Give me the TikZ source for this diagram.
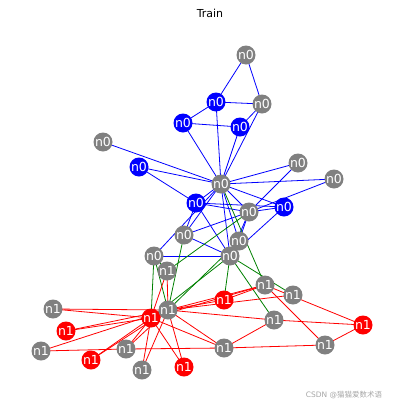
\documentclass[tikz,border=0pt]{standalone}
\usepackage{fontspec}
\setmainfont{DejaVu Sans}
\newfontfamily\cjkfont{Noto Sans CJK SC}
\usetikzlibrary{backgrounds}
\definecolor{ngray}{RGB}{128,128,128}
\definecolor{nblue}{RGB}{0,0,255}
\definecolor{nred}{RGB}{255,0,0}
\definecolor{ngreen}{RGB}{0,128,0}
\tikzset{
  vtx/.style={circle,minimum size=19pt,inner sep=0pt,text=white,font=\fontsize{12.5}{12.5}\selectfont},
  gv/.style={vtx,fill=ngray},
  bv/.style={vtx,fill=nblue},
  rv/.style={vtx,fill=nred},
  be/.style={draw=nblue,line width=0.8pt},
  re/.style={draw=nred,line width=0.8pt},
  ge/.style={draw=ngreen,line width=0.8pt},
}
\begin{document}
\begin{tikzpicture}[x=1pt,y=-1pt]
\useasboundingbox (0,0) rectangle (404,410);
\node[font=\fontsize{11}{11}\selectfont] (title) at (210,13) {Train};
% n0 group
\node[gv] (A) at (246,55) {n0};
\node[bv] (B) at (216,102) {n0};
\node[gv] (C) at (262,104) {n0};
\node[bv] (D) at (183,123) {n0};
\node[bv] (E) at (240,127) {n0};
\node[gv] (F) at (103,142) {n0};
\node[bv] (G) at (139,167) {n0};
\node[gv] (H) at (298,163) {n0};
\node[gv] (I) at (334,179) {n0};
\node[gv] (J) at (221,184) {n0};
\node[bv] (K) at (196,203) {n0};
\node[bv] (L) at (284,207) {n0};
\node[gv] (M) at (249,212) {n0};
\node[gv] (N) at (184,235) {n0};
\node[gv] (O) at (239,241) {n0};
\node[gv] (P) at (154,256) {n0};
\node[gv] (Q) at (230,256) {n0};
% n1 group
\node[gv] (R) at (167,271) {n1};
\node[gv] (S) at (265,285) {n1};
\node[gv] (T) at (293,295) {n1};
\node[rv] (U) at (224,300) {n1};
\node[gv] (V) at (53,309) {n1};
\node[rv] (X) at (151,318) {n1};
\node[gv] (W) at (168,310) {n1};
\node[rv] (Y) at (66,331) {n1};
\node[gv] (Z) at (274,320) {n1};
\node[rv] (AA) at (363,325) {n1};
\node[gv] (BB) at (41,351) {n1};
\node[gv] (CC) at (126,349) {n1};
\node[gv] (DD) at (224,348) {n1};
\node[gv] (EE) at (325,345) {n1};
\node[rv] (FF) at (91,360) {n1};
\node[gv] (GG) at (142,370) {n1};
\node[rv] (HH) at (184,367) {n1};
\node[text=ngray!70,font=\fontsize{7.5}{7.5}\selectfont] (wm) at (344,395) {CSDN @{\cjkfont 猫猫爱数术语}};
\begin{scope}[on background layer]
% blue edges
\foreach \a/\b in {J/M,J/Q,J/K,J/E,J/B,J/C,J/L,J/P,J/D,J/F,J/G,J/N,J/H,J/O,J/I,
  M/Q,M/K,M/L,M/N,M/H,M/O,M/I,Q/K,Q/L,Q/P,Q/N,K/L,K/G,K/N,E/C,E/D,B/C,B/D,B/A,C/A}
  \draw[be] (\a.center) -- (\b.center);
% green edges
\foreach \a/\b in {J/S,M/R,Q/T,Q/Z,Q/U,Q/X,P/R,P/X,P/W,N/W,O/W}
  \draw[ge] (\a.center) -- (\b.center);
% red edges
\foreach \a/\b in {W/T,W/V,W/Y,W/FF,W/GG,W/HH,W/DD,W/BB,W/Z,W/U,W/CC,W/R,W/S,W/X,
  X/V,X/Y,X/FF,X/GG,X/HH,X/DD,X/CC,X/R,X/S,DD/EE,DD/Z,DD/CC,AA/EE,AA/Z,AA/S,BB/CC,S/U,S/EE}
  \draw[re] (\a.center) -- (\b.center);
\end{scope}
\end{tikzpicture}
\end{document}
